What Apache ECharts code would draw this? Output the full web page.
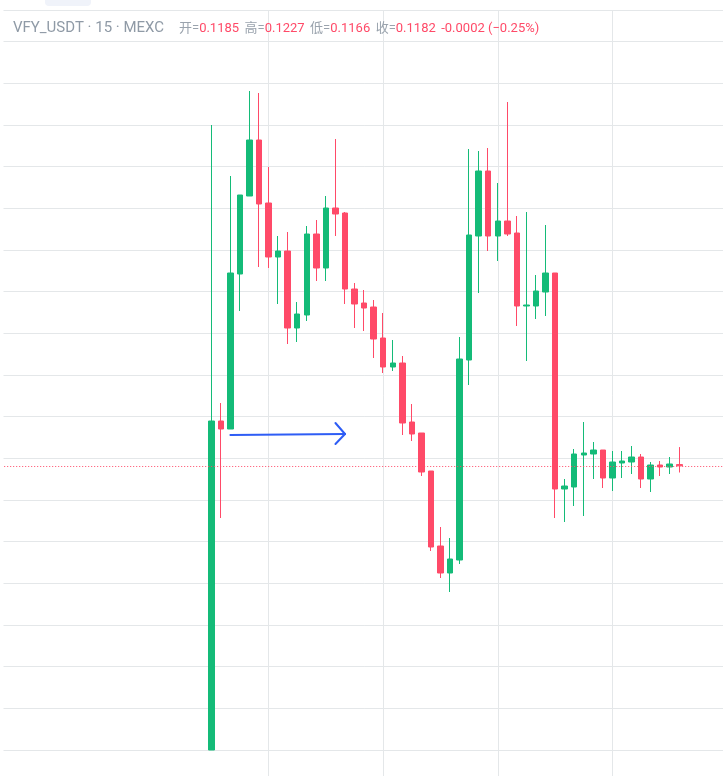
<!DOCTYPE html>
<html><head><meta charset="utf-8">
<style>html,body{margin:0;padding:0;background:#fff;width:723px;height:776px;overflow:hidden}#c{width:730px;height:792px}</style>
<script src="https://cdn.jsdelivr.net/npm/echarts@6/dist/echarts.min.js"></script>
</head><body><div id="c"></div>
<script>
const symbolName = 'VFY_USDT · 15 · MEXC';
const ohlcLegend = [['开=','0.1185'],['高=','0.1227'],['低=','0.1166'],['收=','0.1182']];
const changeLegend = '-0.0002 (−0.25%)';
const lastClose = 0.1182;
const opens = [.05,.12896,.12704,.16424,.18296,.1964,.18128,.16832,.16976,.15128,.1544,.17384,.16568,.18008,.17888,.16064,.15728,.15632,.14888,.14192,.14288,.12872,.12608,.11696,.09896,.09248,.0956,.1436,.17336,.18896,.17336,.17696,.17408,.15656,.15656,.15992,.16448,.11264,.11312,.1208,.12104,.122,.11528,.11888,.11912,.12032,.11504,.1184,.11792,.1185];
const closes = [.12896,.12704,.16448,.1832,.1964,.18104,.16832,.16976,.15128,.15464,.17384,.16568,.18008,.17864,.16064,.15704,.15608,.14864,.14192,.14288,.12848,.12584,.11672,.09872,.09248,.09584,.14384,.1736,.18896,.17336,.17696,.17384,.15656,.1568,.16016,.16448,.11264,.11336,.12104,.12128,.122,.11528,.11912,.11936,.12032,.11504,.1184,.11792,.11864,.1182];
const lows = [.05,.10568,.12704,.15536,.18296,.16592,.16568,.15704,.14744,.14792,.15296,.16256,.16256,.17336,.15704,.15128,.15056,.14408,.14048,.14096,.1256,.12416,.11576,.09776,.09128,.08792,.09464,.1376,.15968,.16976,.16736,.17336,.15176,.14336,.15344,.15416,.10568,.10472,.10856,.10616,.11504,.11288,.11216,.11528,.11624,.11288,.11192,.11576,.11624,.1166];
const highs = [.2,.13328,.18776,.1832,.20816,.20768,.18992,.17336,.17432,.15752,.17576,.1772,.18296,.19664,.17912,.16208,.1604,.158,.15488,.1484,.14456,.13304,.12608,.11696,.10352,.10088,.14912,.19424,.19376,.19448,.18608,.20552,.17816,.17912,.164,.176,.16448,.11504,.12224,.12872,.12392,.122,.12176,.12176,.12296,.12104,.11912,.11936,.12032,.1227];
const leadingBlanks = 22, trailingBlanks = 5;
const arrowFrom = [2, .1256], arrowTip = [14, .12584], arrowArmA = [13, .12848], arrowArmB = [13, .12344];

const categories = [];
const total = leadingBlanks + opens.length + trailingBlanks;
for (let i = 0; i < total; i++) categories.push(String(i));
const candles = categories.map((c, i) => {
  const k = i - leadingBlanks;
  return k >= 0 && k < opens.length ? [opens[k], closes[k], lows[k], highs[k]] : ['-','-','-','-'];
});
const at = p => [p[0] + leadingBlanks, p[1]];
const blue = {color:'#2e5df5', width:2, type:'solid', cap:'round'};
const seg = (a,b) => [{coord: at(a), lineStyle: blue}, {coord: at(b)}];

const GREEN = '#14bb78', RED = '#ff4a68', GRID = '#e4e7e9';
const fontFamily = 'Roboto, "Noto Sans CJK SC", sans-serif';
const legendText = ohlcLegend.map(p => `{g|${p[0]}}{r|${p[1]}}`).join('{s|  }') + '{s|  }{r|' + changeLegend + '}';

const chart = echarts.init(document.getElementById('c'), null, {renderer:'canvas'});
chart.setOption({
  animation:false,
  backgroundColor:'#fff',
  grid:{left:1.2, top:0, width:725.8, height:791.67, containLabel:false},
  xAxis:{type:'category', data:categories, boundaryGap:false,
    axisLine:{show:false}, axisTick:{show:false}, axisLabel:{show:false},
    splitLine:{show:true, interval:i => i >= leadingBlanks + 6 && (i - leadingBlanks - 6) % 12 === 0, lineStyle:{color:GRID, width:1}}},
  yAxis:{type:'value', min:0.04, max:0.23, interval:0.01,
    axisLine:{show:false}, axisTick:{show:false}, axisLabel:{show:false},
    splitLine:{show:true, lineStyle:{color:GRID, width:1}}},
  series:[{type:'candlestick', data:candles, barWidth:6, silent:true,
    itemStyle:{color:GREEN, color0:RED, borderColor:GREEN, borderColor0:RED, borderWidth:1},
    markLine:{silent:true, symbol:'none', animation:false, precision:5, label:{show:false},
      data:[
        {yAxis:lastClose, lineStyle:{color:RED, width:1, type:[1,2]}},
        seg(arrowFrom, arrowTip), seg(arrowArmA, arrowTip), seg(arrowArmB, arrowTip)
      ]}
  }],
  graphic:[
    {type:'rect', z:100, shape:{x:0,y:0,width:3.5,height:792}, style:{fill:'#fff'}},
    {type:'rect', z:100, shape:{x:0,y:0,width:730,height:10}, style:{fill:'#fff'}},
    {type:'rect', z:101, shape:{x:45,y:-6,width:46,height:12,r:4}, style:{fill:'#f0f3fa'}},
    {type:'rect', z:101, shape:{x:3.5,y:10,width:727,height:1}, style:{fill:GRID}},
    {type:'text', z:102, x:13, y:21, style:{text:symbolName, font:'15px '+fontFamily, fill:'#8f9aa6'}},
    {type:'text', z:102, x:179, y:22, style:{text:legendText, font:'13px '+fontFamily,
      rich:{g:{fill:'#9aa3ad', font:'13px '+fontFamily}, r:{fill:RED, font:'13px '+fontFamily}, s:{font:'11px '+fontFamily}}}}
  ]
});
</script></body></html>
